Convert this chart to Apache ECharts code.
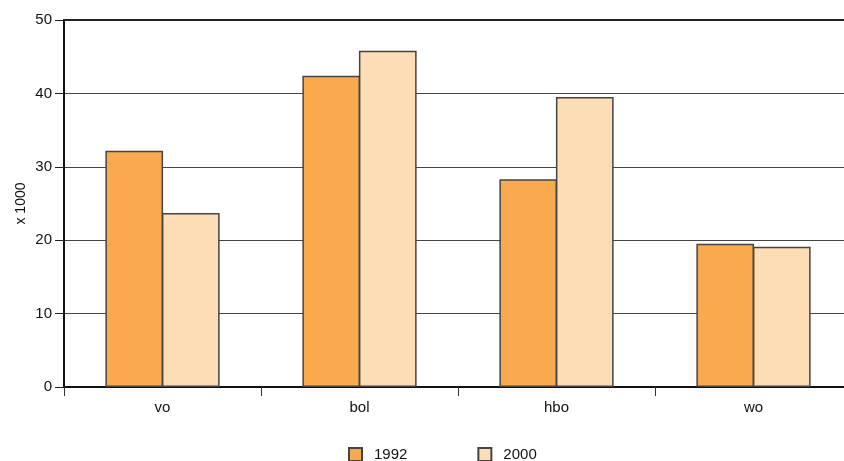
<!DOCTYPE html>
<html><head><meta charset="utf-8">
<script src="https://cdn.jsdelivr.net/npm/echarts@6/dist/echarts.min.js"></script>
<style>html,body{margin:0;padding:0;background:#fff;overflow:hidden;width:844px;height:461px}#c{width:852px;height:461px}</style>
</head><body><div id="c"></div>
<script>
const categories = ['vo', 'bol', 'hbo', 'wo'];
const values1992 = [32.2, 42.4, 28.3, 19.5];
const values2000 = [23.7, 45.8, 39.5, 19.1];
const seriesNames = ['1992', '2000'];
const yTicks = [0, 10, 20, 30, 40, 50];

const font = 'Liberation Sans, Arial, Helvetica, sans-serif';
const chart = echarts.init(document.getElementById('c'), null, {renderer: 'canvas'});
chart.setOption({
  animation: false,
  backgroundColor: '#fff',
  grid: {left: 64, top: 20, right: 0, bottom: 74, containLabel: false},
  legend: {
    left: 343, top: 442,
    itemWidth: 13, itemHeight: 13, itemGap: 70,
    icon: 'rect',
    textStyle: {fontFamily: font, fontSize: 15, color: '#111', padding: [0, 0, 0, 7]},
    data: seriesNames.map(n => ({name: n}))
  },
  xAxis: [{
    type: 'category', data: categories, position: 'bottom',
    axisLine: {lineStyle: {color: '#111', width: 2}},
    axisTick: {show: true, length: 9, lineStyle: {color: '#333', width: 1}, alignWithLabel: false},
    axisLabel: {fontFamily: font, fontSize: 15, color: '#111', margin: 13},
    splitLine: {show: false}
  }, {
    type: 'category', data: categories, position: 'top',
    axisLine: {show: true, lineStyle: {color: '#222', width: 2}},
    axisTick: {show: false}, axisLabel: {show: false}
  }],
  yAxis: {
    type: 'value', min: yTicks[0], max: yTicks[yTicks.length - 1], interval: 10,
    name: 'x 1000', nameLocation: 'middle', nameGap: 36, nameRotate: 90,
    nameMoveOverlap: false,
    nameTextStyle: {fontFamily: font, fontSize: 14, color: '#111'},
    axisLine: {show: true, lineStyle: {color: '#111', width: 2}},
    axisTick: {show: true, length: 9, lineStyle: {color: '#222', width: 1}},
    axisLabel: {fontFamily: font, fontSize: 15, color: '#111', margin: 12},
    splitLine: {show: true, lineStyle: {color: '#444', width: 1}}
  },
  series: [{
    name: seriesNames[0], type: 'bar', data: values1992,
    barGap: '-2%', barCategoryGap: '42%',
    itemStyle: {color: '#F9AA4F', borderColor: '#444', borderWidth: 1.5}
  }, {
    name: seriesNames[1], type: 'bar', data: values2000,
    barGap: '-2%', barCategoryGap: '42%',
    itemStyle: {color: '#FDDDB5', borderColor: '#444', borderWidth: 1.5}
  }]
});
</script></body></html>
